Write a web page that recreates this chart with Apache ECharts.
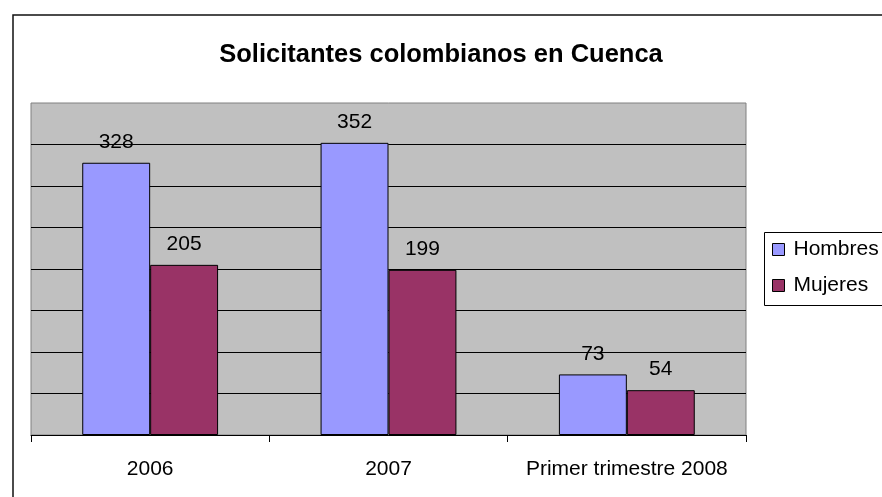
<!DOCTYPE html>
<html>
<head>
<meta charset="utf-8">
<script src="https://cdn.jsdelivr.net/npm/echarts@6/dist/echarts.min.js"></script>
<style>
  html, body { margin: 0; padding: 0; background: #fff; }
  #chart_bar { width: 882px; height: 497px; }
</style>
</head>
<body>
<div id="chart_bar"></div>
<script>
const categories = ['2006', '2007', 'Primer trimestre 2008']
const hombres = [328, 352, 73]
const mujeres = [205, 199, 54]

const font = '"Liberation Sans", Arial, sans-serif'

const chart = echarts.init(document.getElementById('chart_bar'))

const labelStyle = {
  show: true,
  position: 'top',
  distance: 10,
  color: '#000',
  fontFamily: font,
  fontSize: 21
}

chart.setOption({
  animation: false,
  title: {
    text: 'Solicitantes colombianos en Cuenca',
    left: 'center',
    top: 37,
    textStyle: {
      fontFamily: font,
      fontSize: 25.5,
      fontWeight: 'bold',
      color: '#000'
    }
  },
  graphic: [
    // outer chart frame, runs off the right and bottom edges
    {
      type: 'rect',
      shape: { x: 13, y: 15, width: 900, height: 500 },
      style: { fill: 'none', stroke: '#111', lineWidth: 1.5 },
      silent: true
    },
    // legend frame, cut off at the right edge like the original
    {
      type: 'rect',
      shape: { x: 764.5, y: 232.5, width: 200, height: 73 },
      style: { fill: 'none', stroke: '#000', lineWidth: 1 },
      silent: true
    }
  ],
  legend: {
    orient: 'vertical',
    left: 764,
    top: 232,
    padding: [7, 4, 8, 8],
    itemGap: 15,
    itemWidth: 12,
    itemHeight: 12,
    icon: 'rect',
    itemStyle: { borderColor: '#000', borderWidth: 1 },
    textStyle: {
      fontFamily: font,
      fontSize: 21,
      color: '#000',
      padding: [0, 0, 0, 4]
    },
    data: ['Hombres', 'Mujeres']
  },
  grid: {
    left: 31,
    top: 103,
    right: 136,
    bottom: 62,
    show: true,
    backgroundColor: '#C0C0C0',
    borderColor: '#808080',
    borderWidth: 1
  },
  xAxis: {
    type: 'category',
    data: categories,
    axisLine: { lineStyle: { color: '#000', width: 1 } },
    axisTick: { show: true, length: 7, lineStyle: { color: '#000' } },
    axisLabel: {
      interval: 0,
      margin: 24,
      color: '#000',
      fontFamily: font,
      fontSize: 21
    }
  },
  yAxis: {
    type: 'value',
    min: 0,
    max: 400,
    interval: 50,
    axisLine: { show: false },
    axisTick: { show: false },
    axisLabel: { show: false },
    splitLine: {
      show: true,
      showMaxLine: false,
      lineStyle: { color: '#000', width: 1 }
    }
  },
  series: [
    {
      name: 'Hombres',
      type: 'bar',
      data: hombres,
      barGap: '0%',
      barCategoryGap: '43%',
      itemStyle: { color: '#9999FF', borderColor: '#000', borderWidth: 1 },
      label: labelStyle
    },
    {
      name: 'Mujeres',
      type: 'bar',
      data: mujeres,
      itemStyle: { color: '#993366', borderColor: '#000', borderWidth: 1 },
      label: labelStyle
    }
  ]
})
</script>
</body>
</html>
